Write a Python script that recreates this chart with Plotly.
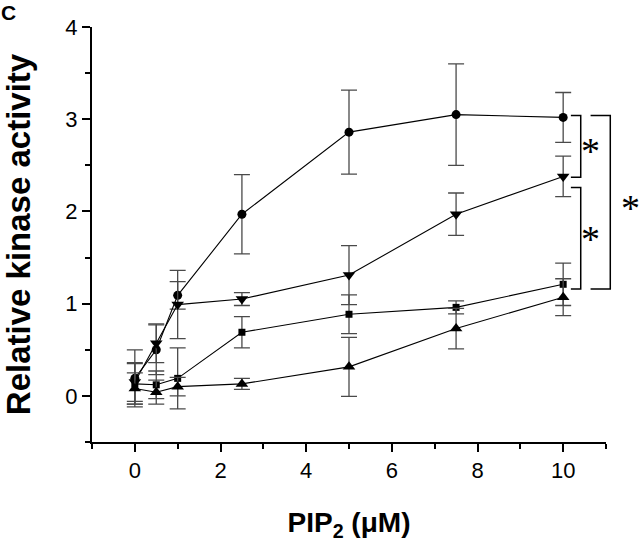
import plotly.graph_objects as go

# ---- data ----
pip2_uM = [0, 0.5, 1, 2.5, 5, 7.5, 10]

circle_vals = [0.19, 0.50, 1.09, 1.97, 2.86, 3.05, 3.02]
circle_err = [0.31, 0.27, 0.15, 0.43, 0.455, 0.55, 0.27]

tri_down_vals = [0.15, 0.57, 0.99, 1.05, 1.31, 1.97, 2.38]
tri_down_err = [0.21, 0.21, 0.37, 0.07, 0.32, 0.23, 0.22]

square_vals = [0.13, 0.12, 0.19, 0.69, 0.885, 0.96, 1.21]
square_err = [0.22, 0.15, 0.33, 0.17, 0.21, 0.07, 0.23]

tri_up_vals = [0.08, 0.04, 0.10, 0.13, 0.315, 0.73, 1.07]
tri_up_err = [0.17, 0.13, 0.10, 0.06, 0.32, 0.22, 0.20]

x_ticks = [0, 2, 4, 6, 8, 10]
y_ticks = [0, 1, 2, 3, 4]
x_range = [-1, 11]
y_range = [-0.5, 4]

# significance brackets: (x_left, x_right, y_top, y_bottom) in data units
brackets = [
    (10.18, 10.41, 3.04, 2.37),
    (10.18, 10.41, 2.26, 1.16),
    (10.64, 11.10, 3.04, 1.16),
]
stars = [(10.64, 2.69), (10.64, 1.73), (11.58, 2.07)]

# ---- figure ----
fig = go.Figure()

series = [
    (circle_vals, circle_err, "circle", 9),
    (tri_down_vals, tri_down_err, "triangle-down", 11),
    (square_vals, square_err, "square", 7),
    (tri_up_vals, tri_up_err, "triangle-up", 11),
]
for vals, errs, sym, sz in series:
    fig.add_trace(go.Scatter(
        x=pip2_uM, y=vals, mode="lines+markers",
        line=dict(color="black", width=1.1),
        marker=dict(symbol=sym, size=sz, color="black"),
        error_y=dict(type="data", array=errs, visible=True,
                     color="#4a4a4a", thickness=1.3, width=8),
        showlegend=False, cliponaxis=False,
    ))


def px(xv):
    return (xv - x_range[0]) / (x_range[1] - x_range[0])


def py(yv):
    return (yv - y_range[0]) / (y_range[1] - y_range[0])


for xl, xr, yt, yb in brackets:
    fig.add_shape(
        type="path", xref="paper", yref="paper",
        path=f"M {px(xl)},{py(yt)} L {px(xr)},{py(yt)} L {px(xr)},{py(yb)} L {px(xl)},{py(yb)}",
        line=dict(color="black", width=1.5),
    )

for sx, sy in stars:
    fig.add_annotation(
        x=px(sx), y=py(sy), xref="paper", yref="paper", text="*",
        showarrow=False, xanchor="center", yanchor="middle", yshift=-3,
        font=dict(family="Liberation Serif", size=38, color="black"),
    )

fig.add_annotation(
    x=-0.1615, y=1.035, xref="paper", yref="paper", text="<b>C</b>",
    showarrow=False, xanchor="center", yanchor="middle",
    font=dict(family="Liberation Sans", size=21, color="black"),
)

axis_common = dict(
    showline=True, linecolor="black", linewidth=2,
    ticks="outside", ticklen=8, tickwidth=1.5, tickcolor="black",
    showgrid=False, zeroline=False, automargin=False,
    tickfont=dict(family="Liberation Sans", size=22, color="black"),
)

fig.update_xaxes(
    range=x_range, tickvals=x_ticks, ticktext=[str(v) for v in x_ticks],
    minor=dict(ticks="outside", dtick=1, tick0=-1, ticklen=5, tickwidth=1.5, tickcolor="black"),
    title=dict(text="<b>PIP<sub>2</sub> (μM)</b>", standoff=30,
               font=dict(family="Liberation Sans", size=28, color="black")),
    **axis_common,
)
fig.update_yaxes(
    range=y_range, tickvals=y_ticks, ticktext=[str(v) for v in y_ticks],
    minor=dict(ticks="outside", dtick=0.5, tick0=0, ticklen=5, tickwidth=1.5, tickcolor="black"),
    title=dict(text="<b>Relative kinase activity</b>", standoff=34,
               font=dict(family="Liberation Sans", size=33, color="black")),
    **axis_common,
)

fig.update_layout(
    width=640, height=543,
    margin=dict(l=92, r=34, t=27, b=101),
    plot_bgcolor="white", paper_bgcolor="white",
)

# remove the default 8px page margin so the figure fills the window exactly
fig.write_html(
    "out.html",
    config={"displayModeBar": False},
    post_script="document.body.style.margin='0';document.body.style.overflow='hidden';",
)
